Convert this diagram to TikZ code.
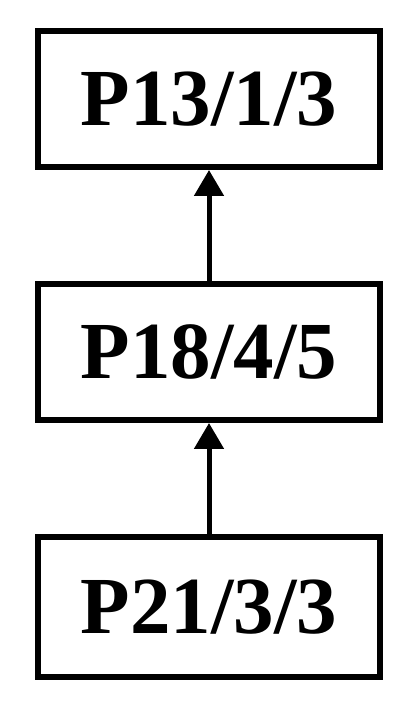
\documentclass[tikz,border=0pt]{standalone}
\usepackage{fontspec}
\setmainfont{Liberation Serif}
\usetikzlibrary{arrows.meta, positioning}
\tikzstyle{process} = [rectangle, minimum width=342pt, minimum height=136pt, inner sep=0pt, text centered, draw=black, line width=6pt, font=\bfseries\fontsize{81}{83}\selectfont]
\tikzstyle{arrow} = [line width=5pt, -{Triangle[width=29pt,length=26pt]}]

\begin{document}
\begin{tikzpicture}[x=1pt, y=1pt, node distance=111pt]
        \useasboundingbox (0,0) rectangle (410,704);
        \node (top) [process] at (209,605) {P13/1/3};
        \node (mid) [process, below=of top] {P18/4/5};
        \node (bot) [process, below=of mid, minimum height=140pt] {P21/3/3};

        \draw [arrow] (mid) -- (top);
        \draw [arrow] (bot) -- (mid);
    \end{tikzpicture}
\end{document}
